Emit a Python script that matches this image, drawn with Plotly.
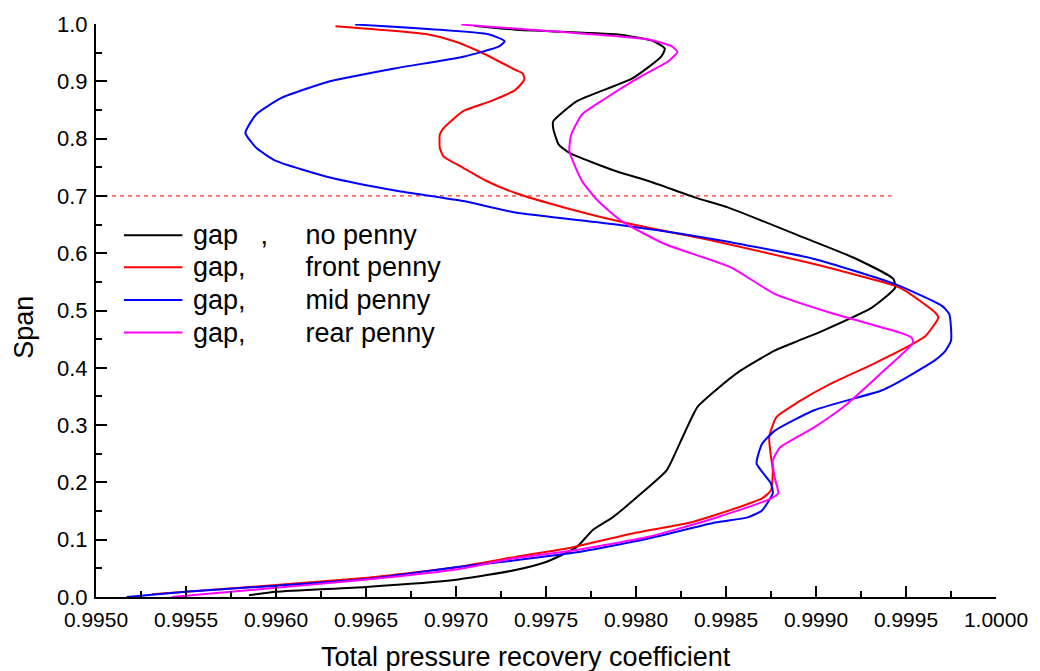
import plotly.graph_objects as go

# ---- data ----
no_penny_x = [0.99585, 0.9960, 0.9965, 0.9970, 0.99733, 0.9975, 0.99767, 0.99776, 0.99787, 0.99803, 0.99817,
              0.99825, 0.99834, 0.99844, 0.99858, 0.99877, 0.99890, 0.99904, 0.99931, 0.99944, 0.99943,
              0.99921, 0.99895, 0.99851, 0.99833, 0.99807, 0.99789, 0.99763, 0.99757, 0.99754, 0.99754,
              0.99767, 0.99798, 0.99814, 0.99816, 0.99809, 0.99789, 0.99733, 0.9971]
no_penny_y = [0.003, 0.009, 0.0174, 0.03, 0.047, 0.061, 0.087, 0.117, 0.139, 0.181, 0.221,
              0.273, 0.331, 0.36, 0.395, 0.43, 0.447, 0.465, 0.505, 0.54, 0.555,
              0.592, 0.625, 0.68, 0.697, 0.726, 0.743, 0.775, 0.79, 0.818, 0.83,
              0.865, 0.905, 0.943, 0.957, 0.971, 0.982, 0.99, 0.997]

front_x = [0.99531, 0.9955, 0.99649, 0.997, 0.99733, 0.99765, 0.99798, 0.99829, 0.99844, 0.9987, 0.99875,
           0.99876, 0.99875, 0.99874, 0.99878, 0.9989, 0.99908, 0.99932, 0.99954, 0.99961, 0.99968,
           0.99966, 0.9995, 0.99944, 0.99899, 0.99844, 0.99794, 0.99761, 0.99733, 0.99717, 0.99704,
           0.99693, 0.99691, 0.99691, 0.99693, 0.99704, 0.99719, 0.99733, 0.99738, 0.99737, 0.99733,
           0.99713, 0.99699, 0.99684, 0.99633]
front_y = [0.005, 0.009, 0.033, 0.052, 0.07, 0.087, 0.111, 0.129, 0.143, 0.172, 0.186,
           0.221, 0.244, 0.279, 0.314, 0.34, 0.372, 0.407, 0.442, 0.456, 0.488,
           0.497, 0.534, 0.543, 0.581, 0.621, 0.653, 0.679, 0.705, 0.726, 0.749,
           0.769, 0.784, 0.807, 0.818, 0.848, 0.865, 0.885, 0.903, 0.914, 0.92,
           0.952, 0.97, 0.982, 0.996]

mid_x = [0.99517, 0.9955, 0.99649, 0.997, 0.99733, 0.99767, 0.99807, 0.99844, 0.99862, 0.9987, 0.99876,
         0.99875, 0.99867, 0.9987, 0.99877, 0.99899, 0.99936, 0.99944, 0.99966, 0.99972, 0.99975,
         0.99975, 0.99974, 0.9997, 0.99944, 0.99899, 0.99844, 0.99789, 0.99733, 0.99704, 0.99667,
         0.9963, 0.996, 0.99589, 0.99583, 0.99589, 0.99603, 0.9963, 0.99667, 0.99704, 0.99724,
         0.99727, 0.99718, 0.99644]
mid_y = [0.0, 0.009, 0.031, 0.052, 0.064, 0.078, 0.102, 0.13, 0.139, 0.151, 0.181,
         0.198, 0.233, 0.267, 0.29, 0.326, 0.36, 0.372, 0.413, 0.43, 0.447,
         0.47, 0.494, 0.508, 0.546, 0.59, 0.624, 0.65, 0.671, 0.691, 0.709,
         0.732, 0.761, 0.784, 0.81, 0.842, 0.871, 0.9, 0.923, 0.943, 0.961,
         0.97, 0.982, 0.999]

rear_x = [0.99542, 0.99575, 0.99649, 0.997, 0.99733, 0.99767, 0.99807, 0.99844, 0.99873, 0.99879, 0.99877,
          0.99876, 0.9988, 0.99899, 0.99915, 0.99936, 0.99954, 0.99953, 0.99947, 0.99908, 0.99877,
          0.99853, 0.99816, 0.99792, 0.99779, 0.9977, 0.99763, 0.99764, 0.9977, 0.99783, 0.99803,
          0.99818, 0.99823, 0.9982, 0.99807, 0.99733, 0.99703]
rear_y = [0.0, 0.009, 0.03, 0.048, 0.068, 0.082, 0.105, 0.138, 0.169, 0.181, 0.209,
          0.238, 0.261, 0.296, 0.331, 0.39, 0.444, 0.453, 0.461, 0.496, 0.529,
          0.575, 0.616, 0.656, 0.691, 0.726, 0.778, 0.807, 0.842, 0.87, 0.909,
          0.935, 0.951, 0.961, 0.973, 0.992, 0.999]

ref_line_x = [0.9950, 0.99942]
ref_line_y = [0.7, 0.7]

NB = "\u00a0"
series = [
    ("gap" + NB * 3 + "," + NB * 5 + "no penny", no_penny_x, no_penny_y, "#000000"),
    ("gap," + NB * 8 + "front penny", front_x, front_y, "#ff0000"),
    ("gap," + NB * 8 + "mid penny", mid_x, mid_y, "#0000ff"),
    ("gap," + NB * 8 + "rear penny", rear_x, rear_y, "#ff00ff"),
]

FONT = "Liberation Sans, Arial, sans-serif"

fig = go.Figure()
fig.add_trace(go.Scatter(x=ref_line_x, y=ref_line_y, mode="lines", showlegend=False,
                         line=dict(color="#ff0000", width=1, dash="4px,4px"), hoverinfo="skip"))
for name, xs, ys, col in series:
    fig.add_trace(go.Scatter(x=xs, y=ys, mode="lines", name=name, showlegend=False,
                             line=dict(color=col, width=2, shape="spline", smoothing=0.5)))

# legend drawn as line samples + text (paper coordinates)
leg_rows_y = [0.6315, 0.5755, 0.5185, 0.4615]
for (name, _, _, col), ly in zip(series, leg_rows_y):
    fig.add_shape(type="line", xref="paper", yref="paper", x0=0.031, x1=0.096, y0=ly, y1=ly,
                  line=dict(color=col, width=2))
    fig.add_annotation(xref="paper", yref="paper", x=0.1057, y=ly, xanchor="left", yanchor="middle",
                       text=name, showarrow=False, font=dict(size=27, family=FONT, color="black"))

# axis titles
fig.add_annotation(xref="paper", yref="paper", x=0.478, y=-0.104, xanchor="center", yanchor="middle",
                   text="Total pressure recovery coefficient", showarrow=False,
                   font=dict(size=27, family=FONT, color="black"))
fig.add_annotation(xref="paper", yref="paper", x=-0.080, y=0.470, xanchor="center", yanchor="middle",
                   text="Span", textangle=-90, showarrow=False,
                   font=dict(size=27, family=FONT, color="black"))

fig.update_layout(
    width=1040, height=671,
    margin=dict(l=96, r=36, t=22, b=74),
    paper_bgcolor="white", plot_bgcolor="white",
    font=dict(family=FONT, color="black", size=21),
    showlegend=False,
)
fig.update_xaxes(
    range=[0.9950, 1.0000], tickformat=".4f", dtick=0.0005, tick0=0.995,
    showgrid=False, zeroline=False, showline=True, linecolor="black", linewidth=2,
    ticks="inside", ticklen=11, tickwidth=2, tickcolor="black",
    minor=dict(ticks="inside", ticklen=6, tickwidth=2, tickcolor="black", dtick=0.00025, showgrid=False),
    tickfont=dict(size=21, family=FONT), ticklabelstandoff=3,
)
fig.update_yaxes(
    range=[0.0, 1.0], tickformat=".1f", dtick=0.1, tick0=0,
    showgrid=False, zeroline=False, showline=True, linecolor="black", linewidth=2,
    ticks="inside", ticklen=11, tickwidth=2, tickcolor="black",
    minor=dict(ticks="inside", ticklen=6, tickwidth=2, tickcolor="black", dtick=0.05, showgrid=False),
    tickfont=dict(size=22, family=FONT), ticklabelstandoff=2,
)

fig.write_html("out.html")
